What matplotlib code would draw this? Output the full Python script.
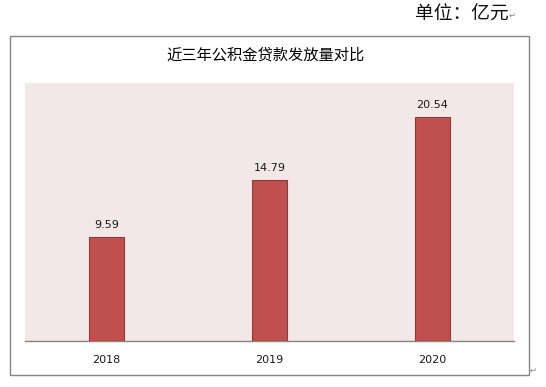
import matplotlib
matplotlib.use("Agg")
import matplotlib.pyplot as plt
from matplotlib.patches import Rectangle

plt.rcParams['font.family'] = ['Noto Sans CJK SC', 'DejaVu Sans']

years = ["2018", "2019", "2020"]
values = [9.59, 14.79, 20.54]
title = "近三年公积金贷款发放量对比"
unit_text = "单位：亿元"

W, H = 546, 387
fig = plt.figure(figsize=(W / 100, H / 100), dpi=100)
fig.patch.set_facecolor("white")

def fx(px):
    return px / W

def fy(py):
    return 1 - py / H

# outer frame
frame = Rectangle((fx(10), fy(375)), fx(529) - fx(10), fy(36) - fy(375),
                  transform=fig.transFigure, fill=False, edgecolor="#868686",
                  linewidth=1.0)
fig.patches.append(frame)

ax = fig.add_axes([fx(25), fy(341), fx(514) - fx(25), fy(83) - fy(341)])
ax.set_facecolor("#F2E8E8")
x = range(len(years))
ax.bar(x, values, width=0.21, color="#C0504D", edgecolor="#8E3A38", linewidth=0.8, zorder=3)
for xi, v in zip(x, values):
    ax.annotate(f"{v:.2f}", (xi, v), xytext=(0, 5), textcoords="offset points",
                ha="center", va="bottom", fontsize=8, family=['DejaVu Sans'], color="#1a1a1a")
ax.set_xlim(-0.5, 2.5)
ax.set_ylim(0, 23.7)
ax.set_xticks(list(x))
ax.set_xticklabels(years, fontsize=8, family=['DejaVu Sans'], color="#1a1a1a")
ax.tick_params(axis="x", length=0, pad=10)
ax.set_yticks([])
for s in ["top", "left", "right"]:
    ax.spines[s].set_visible(False)
ax.spines["bottom"].set_color("#868686")
ax.spines["bottom"].set_linewidth(1.0)

fig.text(fx(266), fy(55), title, ha="center", va="center", fontsize=11, color="black")
fig.text(fx(509), fy(14), unit_text, ha="right", va="center", fontsize=13.5,
         color="#111111", fontweight="light")
fig.text(fx(509), fy(15), "↵", ha="left", va="center", fontsize=6, color="#888888", family=['DejaVu Sans'])
fig.text(fx(530), fy(370), "↵", ha="left", va="center", fontsize=6, color="#888888", family=['DejaVu Sans'])

fig.savefig("out.png", dpi=100)
